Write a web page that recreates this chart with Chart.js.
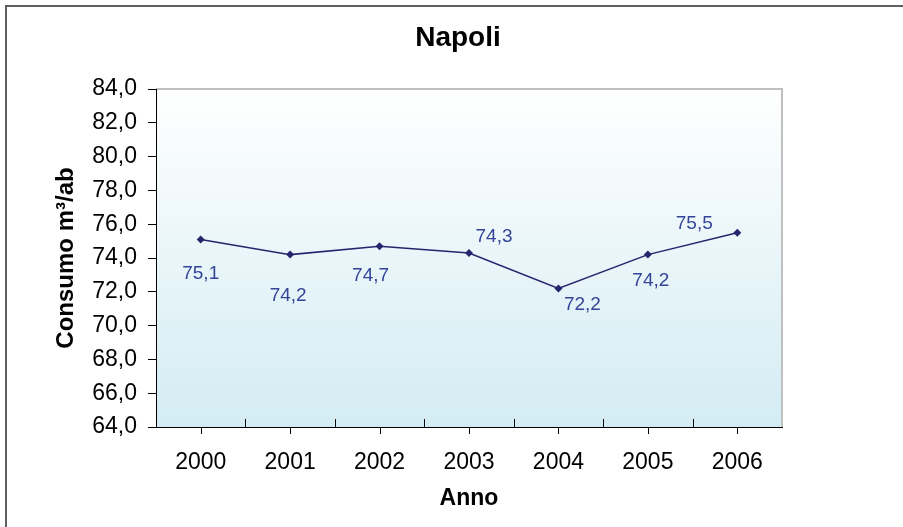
<!DOCTYPE html>
<html lang="it">
<head>
  <meta charset="UTF-8" />
  <title>Napoli</title>
  <script src="https://cdn.jsdelivr.net/npm/chart.js"></script>
  <style>
    html, body { margin: 0; padding: 0; background: #fff; }
    #wrap { position: relative; width: 903px; height: 527px; }
  </style>
</head>
<body>
  <div id="wrap"><canvas id="chart" width="903" height="527"></canvas></div>

  <script>
    // dati
    const anni = ['2000', '2001', '2002', '2003', '2004', '2005', '2006'];
    const consumo = [75.1, 74.2, 74.7, 74.3, 72.2, 74.2, 75.5];
    const yMin = 64, yMax = 84, yStep = 2;
    const titolo = 'Napoli';
    const titoloX = 'Anno';
    const titoloY = 'Consumo m³/ab';

    // spostamento delle etichette rispetto al punto (px)
    const labelShift = [[0, 34], [-2, 41], [-9, 30], [25, -16], [24, 16], [3, 26], [-43, -9]];

    const fmt = v => Number(v).toFixed(1).replace('.', ',');
    const FONT = '"Liberation Sans", Arial, sans-serif';

    const decor = {
      id: 'decor',
      beforeDraw(chart) {
        const { ctx, chartArea: a } = chart;
        ctx.save();
        const g = ctx.createLinearGradient(0, a.top, 0, a.bottom);
        g.addColorStop(0, '#ffffff');
        g.addColorStop(1, '#d3ecf3');
        ctx.fillStyle = g;
        ctx.fillRect(a.left, a.top, a.right - a.left, a.bottom - a.top);
        // bordo grigio sopra e a destra
        ctx.fillStyle = '#c0c0c0';
        ctx.fillRect(a.left, a.top - 1, a.right - a.left + 1, 2);
        ctx.fillRect(a.right - 1, a.top - 1, 2, a.bottom - a.top + 1);
        ctx.restore();
      },
      afterDatasetsDraw(chart) {
        const { ctx } = chart;
        const pts = chart.getDatasetMeta(0).data;
        ctx.save();
        ctx.font = '19px ' + FONT;
        ctx.fillStyle = '#334499';
        ctx.textAlign = 'center';
        ctx.textBaseline = 'middle';
        pts.forEach((p, i) => {
          const [dx, dy] = labelShift[i];
          ctx.fillText(fmt(consumo[i]), p.x + dx, p.y + dy);
        });
        ctx.restore();
      },
      afterDraw(chart) {
        const { ctx, chartArea: a } = chart;
        const xs = chart.scales.x;
        ctx.save();
        ctx.strokeStyle = '#000';
        ctx.lineWidth = 1;
        ctx.beginPath();
        for (let i = 0; i < anni.length; i++) {
          const x = Math.round(xs.getPixelForValue(i)) + 0.5;
          ctx.moveTo(x, a.bottom);
          ctx.lineTo(x, a.bottom + 7);
        }
        for (let i = 1; i < anni.length; i++) {
          const x = Math.round((xs.getPixelForValue(i - 1) + xs.getPixelForValue(i)) / 2) + 0.5;
          ctx.moveTo(x, a.bottom);
          ctx.lineTo(x, a.bottom - 8);
        }
        ctx.stroke();

        // titolo
        ctx.fillStyle = '#000';
        ctx.font = 'bold 28px ' + FONT;
        ctx.textAlign = 'center';
        ctx.textBaseline = 'middle';
        ctx.fillText(titolo, 458, 38);

        // cornice esterna
        ctx.fillStyle = '#606060';
        ctx.fillRect(5, 5, 898, 2);
        ctx.fillRect(5, 5, 2, 522);
        ctx.restore();
      }
    };

    new Chart(document.getElementById('chart'), {
      type: 'line',
      data: {
        labels: anni,
        datasets: [{
          data: consumo,
          borderColor: '#25256e',
          backgroundColor: '#25256e',
          borderWidth: 1.5,
          pointStyle: 'rectRot',
          pointRadius: 4,
          pointBackgroundColor: '#25256e',
          pointBorderWidth: 0,
          tension: 0,
          clip: false
        }]
      },
      options: {
        responsive: false,
        animation: false,
        layout: { padding: { left: 0, right: 121, top: 89, bottom: 0 } },
        plugins: { legend: { display: false }, tooltip: { enabled: false } },
        scales: {
          x: {
            offset: true,
            grid: { display: false, drawTicks: false },
            border: { display: true, color: '#000', width: 1 },
            ticks: { color: '#000', font: { family: FONT, size: 23 }, padding: 22, maxRotation: 0 },
            title: {
              display: true, text: titoloX, color: '#000',
              font: { family: FONT, size: 23, weight: 'bold' },
              padding: { top: 0, bottom: 15 }
            },
            afterFit(s) { s.height = 100; }
          },
          y: {
            min: yMin, max: yMax,
            ticks: { stepSize: yStep, color: '#000', font: { family: FONT, size: 23 }, padding: 11, callback: v => fmt(v) },
            grid: { drawOnChartArea: false, drawTicks: true, tickLength: 8, color: '#000' },
            border: { display: true, color: '#000', width: 1 },
            title: {
              display: true, text: titoloY, color: '#000',
              font: { family: FONT, size: 24, weight: 'bold' },
              padding: { top: 52, bottom: 0 }
            },
            afterFit(s) { s.width = 156; }
          }
        }
      },
      plugins: [decor]
    });
  </script>
</body>
</html>
